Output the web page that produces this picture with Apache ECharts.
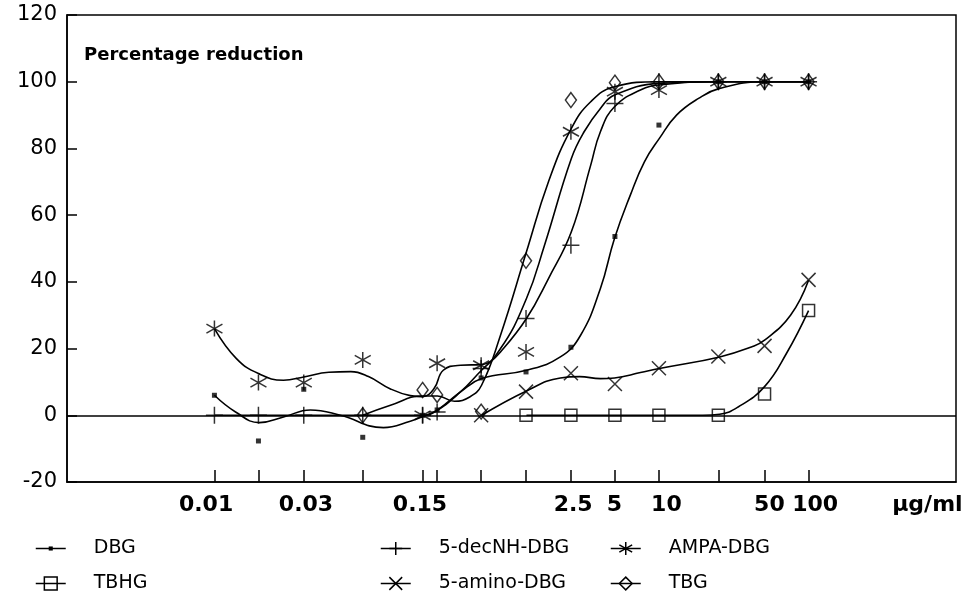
<!DOCTYPE html>
<html>
<head>
<meta charset="utf-8">
<title>Percentage reduction</title>
<script src="https://cdn.jsdelivr.net/npm/echarts@6/dist/echarts.min.js"></script>
<style>
  html, body { margin: 0; padding: 0; background: #fff; }
  #main { width: 966px; height: 616px; }
</style>
</head>
<body>
<div id="main"></div>
<script>
// dose positions along the (irregular) concentration axis, one per tested dose
var dosePos = [0, 1, 2.03, 3.37, 4.73, 5.06, 6.06, 7.08, 8.1, 9.1, 10.1, 11.45, 12.5, 13.5];
var labelPos = [-0.19, 2.08, 4.67, 8.15, 9.09, 10.27, 12.61, 13.65, 16.2];
var labelText = ['0.01', '0.03', '0.15', '2.5', '5', '10', '50', '100', 'µg/ml'];

// measured points, one per dose (null = not tested)
var dbgPts   = [6, -7.7, 7.8, -6.6, 0, 1.6, 11.2, 13, 20.4, 53.6, 87, 100, 100, 100];
var decnhPts = [0, 0, 0, 0, 0, 1, 14, 29, 51, 93.5, 100, 100, 100, 100];
var ampaPts  = [26, 9.8, 9.8, 16.6, 0, 15.6, 15, 19, 85, 97, 97.5, 100, 100, 100];
var tbhgPts  = [null, null, null, null, null, null, null, 0, 0, 0, 0, 0, 6.4, 31.4];
var aminoPts = [null, null, null, null, null, null, 0, 7.1, 12.6, 9.4, 14.1, 17.6, 20.8, 40.6];
var tbgPts   = [null, null, null, 0, 7.6, 6.1, 1.1, 46.3, 94.5, 99.7, 100, 100, 100, 100];

// fitted curves as drawn, [position, value]
var dbgFit = [[0,6],[0.48,1],[1.02,-2.2],[1.57,-0.5],[2.18,1.6],[2.86,0],[3.84,-3.7],[4.45,-1.8],
  [4.73,-0.4],[5.07,1.6],[5.59,7],[6.07,11],[7.09,13.5],[7.86,17.5],[8.32,24],[8.77,38],[9.09,53],
  [9.45,66],[9.77,76],[10.11,83],[10.5,90],[11,95],[11.48,98],[12.5,100],[13.5,100]];
var decnhFit = [[0,0],[2,0],[4.73,0],[5.07,1.5],[5.59,7],[6.07,13.5],[6.5,19],[7.09,29],[7.59,41],
  [8.11,55],[8.55,75],[8.77,85],[9.09,92.5],[9.68,97.5],[10.11,99],[11.48,100],[13.5,100]];
var ampaFit = [[0,26],[0.5,17],[1.0,12.5],[1.57,10.5],[2.03,11.5],[2.6,12.9],[3.1,13.1],[3.5,11.6],
  [4.0,7.9],[4.45,5.9],[4.73,5.6],[4.99,8],[5.2,13.5],[5.59,15],[6.07,15.2],[6.5,20],[7.09,35],[7.5,51],
  [8.11,77],[8.4,85],[8.77,92],[9.09,96],[10.11,99.5],[11.48,100],[13.5,100]];
var tbhgFit = [[7.09,0],[9.09,0],[11.1,0],[11.48,0.3],[11.9,2.5],[12.5,8.6],[13.0,18.6],[13.5,31.4]];
var aminoFit = [[6.07,0],[7.09,7.3],[7.86,11.2],[8.3,11.6],[8.77,11],[9.09,11.2],[9.68,12.8],
  [10.11,14],[11.48,17.5],[12.2,20.5],[12.5,22.5],[13.09,30],[13.5,40.5]];
var tbgFit = [[3.37,0],[4.0,3],[4.73,5.8],[5.07,5.8],[5.45,4.2],[5.8,5.5],[6.07,9],[6.5,24],
  [7.09,49],[7.59,70],[8.11,86],[8.55,94],[9.09,98.5],[10.11,100],[13.5,100]];

var names = ['DBG', '5-decNH-DBG', 'AMPA-DBG', 'TBHG', '5-amino-DBG', 'TBG'];

var sym = {
  dot: 'path://M0,0L0,0M10,10L10,10M3.4,3.4h3.2v3.2h-3.2z',
  plus: 'path://M0,5L10,5M5,0L5,10',
  star: 'path://M5,0L5,10M0.6,2.2L9.4,7.8M0.6,7.8L9.4,2.2',
  cross: 'path://M0,0L10,10M0,10L10,0'
};

var hollow = { color: 'rgba(0,0,0,0)', borderColor: '#000', borderWidth: 1.5 };
var solid = { color: '#000', borderWidth: 0 };

var styles = {
  'DBG':         { legend: sym.dot,   point: 'rect',    size: 5,       item: solid },
  '5-decNH-DBG': { legend: sym.plus,  point: sym.plus,  size: 17,      item: hollow },
  'AMPA-DBG':    { legend: sym.star,  point: sym.star,  size: 16,      item: hollow },
  'TBHG':        { legend: 'rect',    point: 'rect',    size: 12,      item: hollow },
  '5-amino-DBG': { legend: sym.cross, point: sym.cross, size: 14,      item: hollow },
  'TBG':         { legend: 'diamond', point: 'diamond', size: [11, 15], item: hollow }
};

var pts = [dbgPts, decnhPts, ampaPts, tbhgPts, aminoPts, tbgPts];
var fits = [dbgFit, decnhFit, ampaFit, tbhgFit, aminoFit, tbgFit];

function toPairs(values) {
  var out = [];
  values.forEach(function (v, i) {
    if (v !== null) out.push([dosePos[i], v]);
  });
  return out;
}

var series = [];
names.forEach(function (n, i) {
  var s = styles[n];
  var line = {
    name: n, type: 'line', data: fits[i], smooth: 0.45,
    showSymbol: false, symbol: s.legend, itemStyle: s.item,
    lineStyle: { color: '#000', width: 1.6 }, z: 2
  };
  if (i === 0) {
    line.markLine = {
      silent: true, symbol: ['none', 'none'], label: { show: false },
      lineStyle: { color: '#000', width: 1.5, type: 'solid' },
      data: [{ yAxis: 0 }]
    };
  }
  series.push(line);
});
names.forEach(function (n, i) {
  var s = styles[n];
  series.push({
    name: n, type: 'scatter', data: toPairs(pts[i]),
    symbol: s.point, symbolSize: s.size, itemStyle: s.item, z: 3
  });
});

function legendCol(list, left) {
  return {
    orient: 'vertical', left: left, top: 539, itemWidth: 30, itemHeight: 16, itemGap: 16,
    selectedMode: false, padding: 0,
    lineStyle: { color: '#000', width: 1.5 },
    data: list.map(function (n) { return { name: n, itemStyle: styles[n].item }; }),
    textStyle: { fontFamily: 'DejaVu Sans', fontSize: 19, color: '#000', padding: [0, 0, 0, 23] }
  };
}

var chart = echarts.init(document.getElementById('main'));
chart.setOption({
  animation: false,
  backgroundColor: '#fff',
  title: {
    text: 'Percentage reduction', left: 84, top: 46, padding: 0,
    textStyle: { fontFamily: 'DejaVu Sans', fontWeight: 'bold', fontSize: 18, color: '#000' }
  },
  legend: [
    legendCol(['DBG', 'TBHG'], 35),
    legendCol(['5-decNH-DBG', '5-amino-DBG'], 380),
    legendCol(['AMPA-DBG', 'TBG'], 610)
  ],
  grid: {
    left: 67, right: 10, top: 15, bottom: 134,
    show: true, borderColor: '#000', borderWidth: 1.5, backgroundColor: 'transparent'
  },
  xAxis: {
    type: 'value', min: -3.35, max: 16.85,
    splitLine: { show: false },
    axisLine: { show: true, onZero: false, lineStyle: { color: '#000', width: 1.5 } },
    axisTick: { show: true, inside: true, length: 12, customValues: dosePos,
      lineStyle: { color: '#000', width: 1.5 } },
    axisLabel: {
      customValues: labelPos, margin: 12, color: '#000',
      fontFamily: 'DejaVu Sans', fontWeight: 'bold', fontSize: 22,
      formatter: function (v) {
        var i = labelPos.indexOf(v);
        return i < 0 ? '' : labelText[i];
      }
    }
  },
  yAxis: {
    type: 'value', min: -20, max: 120, interval: 20,
    splitLine: { show: false },
    axisLine: { show: true, onZero: false, lineStyle: { color: '#000', width: 1.5 } },
    axisTick: { show: true, inside: true, length: 10, lineStyle: { color: '#000', width: 1.5 } },
    axisLabel: { margin: 10, color: '#000', fontFamily: 'DejaVu Sans', fontSize: 21 }
  },
  series: series
});
</script>
</body>
</html>
